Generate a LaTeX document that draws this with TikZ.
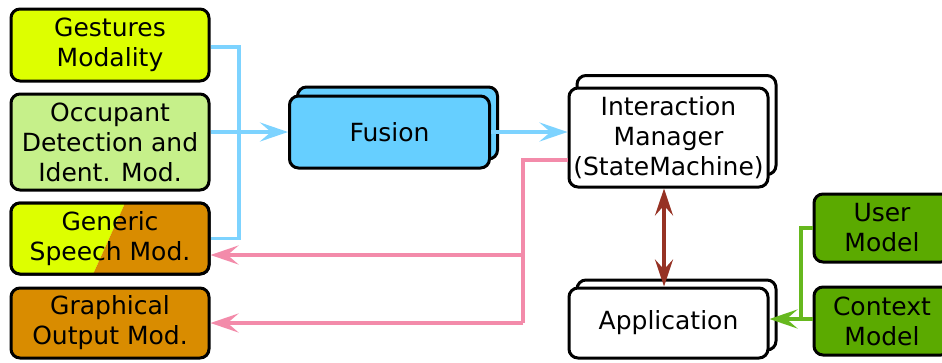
\documentclass[tikz,border=0pt]{standalone}
\usepackage{fontspec}
\setmainfont{DejaVu Sans}
\usetikzlibrary{arrows.meta}

\definecolor{gestfill}{HTML}{DDFF00}
\definecolor{occfill}{HTML}{C6F08A}
\definecolor{outfill}{HTML}{D98C00}
\definecolor{fusfill}{HTML}{66CFFF}
\definecolor{blueline}{HTML}{7DD3FF}
\definecolor{pinkline}{HTML}{F38BAA}
\definecolor{brownline}{HTML}{963224}
\definecolor{greenfill}{HTML}{5BAA00}
\definecolor{greenline}{HTML}{66B81E}

\tikzset{
  box/.style={draw=black, line width=3pt, rounded corners=9pt, align=center,
    inner sep=0pt, font=\fontsize{25}{30}\selectfont, text=black},
  conn/.style={line width=3.5pt},
  tip/.style={-{Stealth[length=28pt,width=19pt,inset=11pt]}},
  dtip/.style={{Stealth[length=27pt,width=18pt,inset=10pt]}-{Stealth[length=27pt,width=18pt,inset=10pt]}},
}

\begin{document}
\begin{tikzpicture}[x=1pt,y=-1pt]
  \useasboundingbox (0,0) rectangle (942,362);
  \clip (0,0) rectangle (942,362);
  \fill[white] (0,0) rectangle (942,362);

  % input / output modules on the left
  \node[box, fill=gestfill, minimum width=198pt, minimum height=72pt] (gest) at (110,45) {Gestures\\Modality};
  \node[box, fill=occfill, minimum width=198pt, minimum height=96pt] (occ) at (110,142) {Occupant\\Detection and\\Ident. Mod.};
  \node[box, minimum width=198pt, minimum height=71pt] (speech) at (110,238.5) {};
  \begin{scope}
    \clip[rounded corners=9pt] (11,203) rectangle (209,274);
    \fill[gestfill] (0,190) -- (131,190) -- (86,290) -- (0,290) -- cycle;
    \fill[outfill] (131,190) -- (220,190) -- (220,290) -- (86,290) -- cycle;
  \end{scope}
  \node[box, minimum width=198pt, minimum height=71pt] (speechtxt) at (110,238.5) {Generic\\Speech Mod.};
  \node[box, fill=outfill, minimum width=198pt, minimum height=70pt] (gout) at (110,323) {Graphical\\Output Mod.};

  % stacked components
  \node[box, fill=fusfill, minimum width=200pt, minimum height=72pt] (fusback) at (397.5,123) {};
  \node[box, fill=fusfill, minimum width=200pt, minimum height=72pt] (fus) at (389.5,132) {Fusion};

  \node[box, fill=white, minimum width=199pt, minimum height=99pt] (imback) at (676.5,125) {};
  \node[box, fill=white, minimum width=199pt, minimum height=99pt] (im) at (668.5,137.5) {Interaction\\Manager\\(StateMachine)};

  \node[box, fill=white, minimum width=199pt, minimum height=70pt] (appback) at (676.5,315) {};
  \node[box, fill=white, minimum width=199pt, minimum height=70pt] (app) at (668.5,323) {Application};

  % models on the right
  \node[box, fill=greenfill, minimum width=136pt, minimum height=68pt] (user) at (882,228) {User\\Model};
  \node[box, fill=greenfill, minimum width=136pt, minimum height=68pt] (ctx) at (882,321) {Context\\Model};

  % input connectors
  \coordinate (bx) at (239,47);
  \draw[conn, blueline] (gest.east |- bx) -- (bx) -- (bx |- speech.east) -- (speech.east);
  \draw[conn, blueline, tip] (occ.east |- fus.west) -- (fus.west);
  \draw[conn, blueline, tip] (fus.east) -- (im.west |- fus.east);

  % output connectors
  \coordinate (pk) at (523,160);
  \draw[conn, pinkline] (im.west |- pk) -- (pk) -- (pk |- gout.east);
  \draw[conn, pinkline, tip] (pk |- gout.east) -- (gout.east);
  \draw[conn, pinkline, tip] ([yshift=-16.5pt]speech.east -| pk) -- ([yshift=-16.5pt]speech.east);

  % manager <-> application
  \draw[conn, brownline, dtip] ([xshift=-4.5pt]im.south) -- ([xshift=-4.5pt]app.north);

  % models -> application
  \coordinate (gx) at (801,319);
  \draw[conn, greenline] (user.west) -| (gx);
  \draw[conn, greenline, tip] ([yshift=2pt]ctx.west) -- ([yshift=2pt]ctx.west -| app.east);
\end{tikzpicture}
\end{document}
